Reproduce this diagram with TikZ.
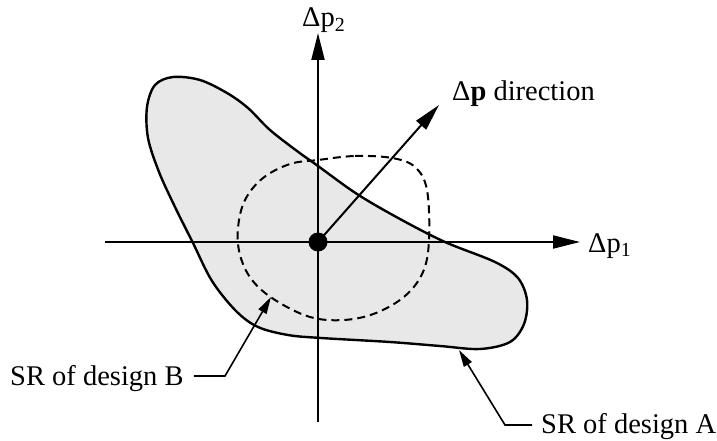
\documentclass[tikz,border=0pt]{standalone}
\usepackage{fontspec}
\setmainfont{Liberation Serif}
\usetikzlibrary{arrows.meta}
\definecolor{shade}{RGB}{232,232,232}
\begin{document}
\begin{tikzpicture}[x=1pt,y=-1pt,
  axis/.style={line width=2pt,-{Triangle[length=27pt,width=13pt]}},
  regionA/.style={line width=2.4pt,fill=shade},
  regionB/.style={line width=2pt,dash pattern=on 8pt off 5pt},
  leader/.style={line width=1.6pt,-{Triangle[length=17pt,width=9pt]}},
  lbl/.style={inner sep=0pt,font=\fontsize{28.5}{34}\selectfont},
  dotnode/.style={circle,fill=black,inner sep=0pt,minimum size=19pt}]
\useasboundingbox (0,0) rectangle (717,441);
% region A
\draw[regionA] plot[smooth cycle,tension=0.55] coordinates {
 (173,77) (200,80) (227,93) (248,108) (270,130) (297,151) (318,166)
 (357,194) (400,219) (445,242) (495,262) (518,278) (527,300) (524,324)
 (510,342) (480,349) (440,346) (390,342) (321,338) (288,335) (258,327)
 (236,311) (212,281) (193,243) (175,207) (159,172) (148,138) (147,107)
 (155,85)};
% region B
\draw[regionB] plot[smooth cycle,tension=0.6] coordinates {
 (318,160) (355,156) (392,158) (415,167) (427,190) (429,240) (423,272)
 (405,296) (376,313) (344,320) (310,317) (275,300) (252,280) (240,255)
 (238,228) (245,200) (263,178) (290,164)};
% axes
\coordinate (o) at (318,242);
\coordinate (xs) at (105,242);
\coordinate (xe) at (580,242);
\coordinate (ys) at (318,422);
\coordinate (ye) at (318,33);
\coordinate (de) at (439,105);
\draw[axis] (xs) -- (xe);
\draw[axis] (ys) -- (ye);
\node[dotnode] (dot) at (o) {};
\draw[axis] (o) -- (de);
% labels
\node[lbl,anchor=base west] (p1) at (588,252) {Δp\textsubscript{1}};
\node[lbl,anchor=base west] (p2) at (302,27) {Δp\textsubscript{2}};
\node[lbl,anchor=base west] (dir) at (452,101) {Δ\textbf{p} direction};
\node[lbl,anchor=base west] (srb) at (10,385) {SR of design B};
\node[lbl,anchor=base west] (sra) at (541,433) {SR of design A};
% leaders
\coordinate (bk) at (225,376);
\coordinate (bt) at (271,297);
\coordinate (ak) at (505,425);
\coordinate (at) at (459,350);
\draw[leader] ([xshift=10pt]srb.east |- bk) -- (bk) -- (bt);
\draw[leader] ([xshift=-9pt]sra.west |- ak) -- (ak) -- (at);
\end{tikzpicture}
\end{document}
